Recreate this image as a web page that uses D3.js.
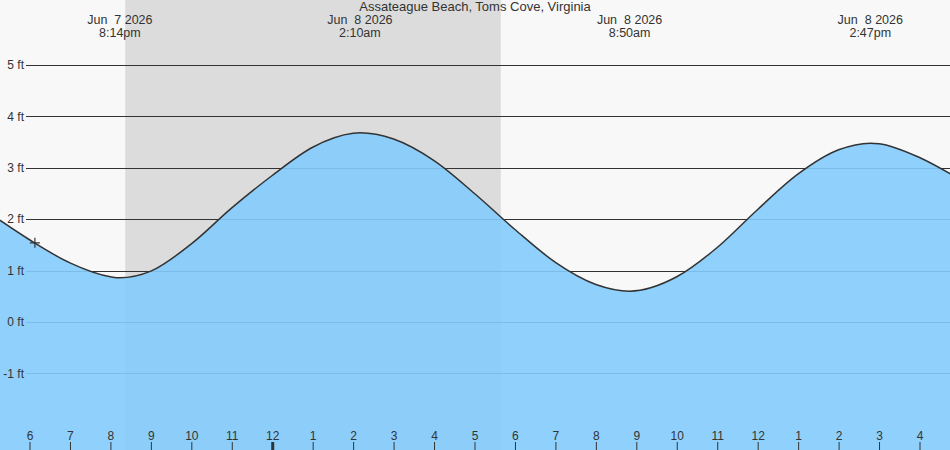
<!DOCTYPE html>
<html>
<head>
<meta charset="utf-8">
<script src="https://cdn.jsdelivr.net/npm/d3@7"></script>
<style>
  body { margin: 0; background: #f8f8f8; }
  svg { display: block; font-family: "Liberation Sans", Arial, sans-serif; }
  text { fill: #333; font-size: 12px; }
</style>
</head>
<body>
<div id="tide_chart"></div>
<script>
// tide chart, Assateague Beach
const title = "Assateague Beach, Toms Cove, Virginia";

// water level (ft)
const times = [
  "2026-06-07T17:16", "2026-06-07T18:00", "2026-06-07T19:00", "2026-06-07T20:00",
  "2026-06-07T20:14", "2026-06-07T21:00", "2026-06-07T22:00", "2026-06-07T23:00",
  "2026-06-08T00:00", "2026-06-08T01:00", "2026-06-08T02:00", "2026-06-08T02:10",
  "2026-06-08T03:00", "2026-06-08T04:00", "2026-06-08T05:00", "2026-06-08T06:00",
  "2026-06-08T07:00", "2026-06-08T08:00", "2026-06-08T08:50", "2026-06-08T10:00",
  "2026-06-08T11:00", "2026-06-08T12:00", "2026-06-08T13:00", "2026-06-08T14:00",
  "2026-06-08T14:47", "2026-06-08T15:00", "2026-06-08T16:00", "2026-06-08T16:46"
];
const levels = [
  1.98, 1.60, 1.15, 0.88,
  0.86, 0.99, 1.52, 2.22,
  2.85, 3.40, 3.67, 3.68,
  3.56, 3.14, 2.50, 1.80,
  1.16, 0.73, 0.60, 0.88,
  1.45, 2.19, 2.88, 3.35,
  3.48, 3.47, 3.20, 2.88
];

// high / low events labelled along the top
const eventTimes = ["2026-06-07T20:14", "2026-06-08T02:10", "2026-06-08T08:50", "2026-06-08T14:47"];
const eventDates = ["Jun  7 2026", "Jun  8 2026", "Jun  8 2026", "Jun  8 2026"];
const eventLabels = ["8:14pm", "2:10am", "8:50am", "2:47pm"];

// night (sunset -> sunrise)
const night = ["2026-06-07T20:22", "2026-06-08T05:39"];

// current time marker
const nowTime = "2026-06-07T18:08";
const nowLevel = 1.54;

const yTicks = [-1, 0, 1, 2, 3, 4, 5];

const width = 950, height = 450;

const parse = d3.timeParse("%Y-%m-%dT%H:%M");
const data = times.map((t, i) => ({ t: parse(t), v: levels[i] }));

const svg = d3.select("#tide_chart")
  .append("svg")
  .attr("width", width)
  .attr("height", height)
  .attr("viewBox", [0, 0, width, height]);

let x = d3.scaleTime()
  .domain([parse("2026-06-07T18:00"), parse("2026-06-08T16:00")])
  .range([29.5, 919.5]);

let y = d3.scaleLinear()
  .domain([0, 5])
  .range([322, 65]);

svg.append("rect")
  .attr("width", width).attr("height", height)
  .attr("fill", "#f8f8f8");

svg.append("rect")
  .attr("x", x(parse(night[0])))
  .attr("width", x(parse(night[1])) - x(parse(night[0])))
  .attr("y", 0)
  .attr("height", height)
  .attr("fill", "#dcdcdc");

// grid lines
svg.append("g")
  .selectAll("line")
  .data(yTicks)
  .join("line")
  .attr("x1", 26).attr("x2", width)
  .attr("y1", d => Math.round(y(d)) + 0.5)
  .attr("y2", d => Math.round(y(d)) + 0.5)
  .attr("stroke", "#333")
  .attr("stroke-width", 1);

// water
let area = d3.area()
  .x(d => x(d.t))
  .y0(height)
  .y1(d => y(d.v))
  .curve(d3.curveMonotoneX);

svg.append("path")
  .datum(data)
  .attr("d", area)
  .attr("fill", "#83ccfc")
  .attr("fill-opacity", 0.9);

let line = d3.line()
  .x(d => x(d.t))
  .y(d => y(d.v))
  .curve(d3.curveMonotoneX);

svg.append("path")
  .datum(data)
  .attr("d", line)
  .attr("fill", "none")
  .attr("stroke", "#333")
  .attr("stroke-width", 1.5);

// y labels on top of the water
svg.append("g")
  .selectAll("text")
  .data(yTicks)
  .join("text")
  .attr("x", 24)
  .attr("y", d => y(d))
  .attr("dy", "0.35em")
  .attr("text-anchor", "end")
  .text(d => d + " ft");

// now marker
const nx = x(parse(nowTime)), ny = y(nowLevel);
svg.append("path")
  .attr("d", `M${nx - 5},${ny}H${nx + 5}M${nx},${ny - 5}V${ny + 5}`)
  .attr("stroke", "#333")
  .attr("stroke-width", 1.2);

// hour axis
const xAxis = svg.append("g")
  .attr("transform", `translate(0,${height})`)
  .call(d3.axisTop(x)
    .ticks(d3.timeHour.every(1))
    .tickSize(8)
    .tickPadding(2)
    .tickFormat(d3.timeFormat("%-I")));
xAxis.select(".domain").remove();
xAxis.selectAll("line")
  .attr("stroke", "#333")
  .attr("stroke-width", d => d.getHours() === 0 ? 3 : 1);
xAxis.selectAll("text")
  .attr("fill", "#333")
  .style("font-size", "12px")
  .style("font-family", "Liberation Sans, Arial, sans-serif");

// title + event labels
svg.append("text")
  .attr("x", width / 2)
  .attr("y", 11)
  .attr("text-anchor", "middle")
  .style("font-size", "13px")
  .text(title);

const ev = svg.append("g")
  .selectAll("g")
  .data(eventTimes)
  .join("g")
  .attr("transform", d => `translate(${x(parse(d))},0)`);

ev.append("text")
  .attr("y", 24)
  .attr("text-anchor", "middle")
  .style("white-space", "pre")
  .style("font-size", "12.5px")
  .text((d, i) => eventDates[i]);

ev.append("text")
  .attr("y", 36.5)
  .attr("text-anchor", "middle")
  .style("font-size", "12.5px")
  .text((d, i) => eventLabels[i]);
</script>
</body>
</html>
